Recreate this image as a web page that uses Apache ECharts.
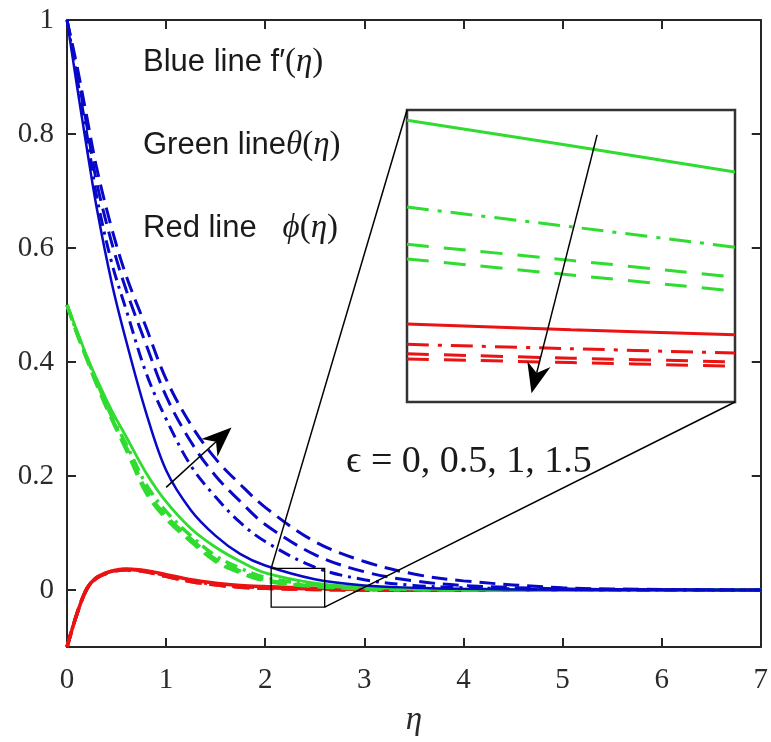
<!DOCTYPE html>
<html>
<head>
<meta charset="utf-8">
<script src="https://cdn.jsdelivr.net/npm/echarts@6/dist/echarts.min.js"></script>
<style>
  html, body { margin: 0; padding: 0; background: #fff; }
  #chart { width: 771px; height: 742px; }
</style>
</head>
<body>
<div id="chart"></div>
<script>
// eta sample points (main plot)
const eta = [0, 0.1, 0.2, 0.3, 0.45, 0.6, 0.8, 1, 1.25, 1.5, 1.75, 2, 2.5, 3, 3.5, 4, 5, 6, 7];

// f'(eta), eps = 0, 0.5, 1, 1.5
const blueE0  = [1, 0.885, 0.775, 0.67, 0.54, 0.435, 0.31, 0.21, 0.14, 0.095, 0.063, 0.043, 0.019, 0.008, 0.004, 0.002, 0.0005, 0, 0];
const blueE05 = [1, 0.9, 0.8, 0.69, 0.575, 0.49, 0.38, 0.3, 0.218, 0.163, 0.118, 0.085, 0.04, 0.018, 0.008, 0.004, 0.001, 0, 0];
const blueE1  = [1, 0.91, 0.815, 0.715, 0.61, 0.525, 0.43, 0.34, 0.26, 0.2, 0.155, 0.115, 0.062, 0.032, 0.016, 0.008, 0.002, 0.0005, 0];
const blueE15 = [1, 0.92, 0.83, 0.74, 0.635, 0.55, 0.46, 0.37, 0.29, 0.23, 0.185, 0.145, 0.085, 0.05, 0.028, 0.016, 0.004, 0.001, 0];

// theta(eta)
const greenE0  = [0.5, 0.455, 0.41, 0.37, 0.315, 0.268, 0.205, 0.155, 0.108, 0.075, 0.05, 0.03, 0.012, 0.005, 0.002, 0.001, 0, 0, 0];
const greenE05 = [0.5, 0.452, 0.408, 0.365, 0.305, 0.255, 0.185, 0.138, 0.095, 0.06, 0.038, 0.022, 0.009, 0.004, 0.002, 0.001, 0, 0, 0];
const greenE1  = [0.5, 0.451, 0.406, 0.362, 0.302, 0.25, 0.175, 0.13, 0.09, 0.054, 0.033, 0.018, 0.007, 0.003, 0.001, 0, 0, 0, 0];
const greenE15 = [0.5, 0.45, 0.405, 0.36, 0.3, 0.245, 0.17, 0.125, 0.085, 0.05, 0.03, 0.016, 0.006, 0.002, 0.001, 0, 0, 0, 0];

// phi(eta)
const redE0  = [-0.1, -0.042, 0.002, 0.022, 0.033, 0.037, 0.034, 0.027, 0.018, 0.012, 0.008, 0.006, 0.003, 0.001, 0, 0, 0, 0, 0];
const redE05 = [-0.1, -0.042, 0.002, 0.022, 0.033, 0.036, 0.033, 0.025, 0.016, 0.01, 0.006, 0.004, 0.002, 0.001, 0, 0, 0, 0, 0];
const redE1  = [-0.1, -0.042, 0.002, 0.021, 0.032, 0.036, 0.032, 0.024, 0.015, 0.009, 0.005, 0.003, 0.001, 0, 0, 0, 0, 0, 0];
const redE15 = [-0.1, -0.042, 0.002, 0.021, 0.032, 0.035, 0.032, 0.024, 0.015, 0.009, 0.005, 0.003, 0.001, 0, 0, 0, 0, 0, 0];

// zoomed inset
const insetEta = [2.06, 2.33, 2.6];
const insetGreenE0  = [0.0386, 0.0351, 0.0315];
const insetGreenE05 = [0.0267, 0.024, 0.0212];
const insetGreenE1  = [0.0216, 0.0194, 0.0171];
const insetGreenE15 = [0.0196, 0.0174, 0.0152];
const insetRedE0  = [0.0107, 0.0099, 0.0092];
const insetRedE05 = [0.0079, 0.0073, 0.0067];
const insetRedE1  = [0.0066, 0.006, 0.0055];
const insetRedE15 = [0.0059, 0.0054, 0.0049];

const xTicks = [0, 1, 2, 3, 4, 5, 6, 7];
const yTicks = [0, 0.2, 0.4, 0.6, 0.8, 1];

// zoom box in main plot, and arrows
const zoomBox = { x0: 2.06, x1: 2.6, y0: -0.03, y1: 0.038 };
const mainArrow = { from: [1.0, 0.18], to: [1.66, 0.285] };
const insetArrow = { from: [2.373, 0.0366], to: [2.265, 0.0012] };

const BLUE = '#0808c8';
const GREEN = '#2fdc2f';
const RED = '#ea1212';
const AXIS = '#262626';

const SOLID = 'solid';
const DASHDOT = [13, 6, 3, 6];
const DASH = [16, 8];
const DASH_IN = [22, 15];
const DASHDOT_IN = [22, 9, 4, 9];

function line(xs, ys, color, type, width, axis) {
  return {
    type: 'line',
    data: xs.map((x, i) => [x, ys[i]]),
    xAxisIndex: axis,
    yAxisIndex: axis === 0 ? 0 : 2,
    symbol: 'none',
    smooth: 0.35,
    silent: true,
    z: axis === 0 ? 2 : 20,
    lineStyle: { color: color, width: width, type: type }
  };
}

const chart = echarts.init(document.getElementById('chart'));

const serifLabel = { fontFamily: 'Liberation Serif', fontSize: 29, color: '#2a2a2a' };

chart.setOption({
  animation: false,
  backgroundColor: '#fff',
  grid: [
    { left: 67, right: 4, top: 20, bottom: 94 },
    { left: 407, top: 110, width: 328, height: 292, show: true, backgroundColor: '#fff',
      borderColor: '#333', borderWidth: 2.5 }
  ],
  xAxis: [
    {
      type: 'value', gridIndex: 0, min: 0, max: 7, interval: 1, position: 'bottom',
      name: 'η', nameLocation: 'middle', nameGap: 57,
      nameTextStyle: { fontFamily: 'Liberation Serif', fontStyle: 'italic', fontSize: 33, color: '#2a2a2a' },
      axisLine: { onZero: false, lineStyle: { color: AXIS, width: 2 } },
      axisTick: { inside: true, length: 9, lineStyle: { color: AXIS, width: 2 } },
      axisLabel: Object.assign({ margin: 19 }, serifLabel),
      splitLine: { show: false }
    },
    {
      type: 'value', gridIndex: 0, min: 0, max: 7, interval: 1, position: 'top',
      axisLine: { onZero: false, lineStyle: { color: AXIS, width: 2 } },
      axisTick: { inside: true, length: 9, lineStyle: { color: AXIS, width: 2 } },
      axisLabel: { show: false },
      splitLine: { show: false }
    },
    {
      type: 'value', gridIndex: 1, min: 2.06, max: 2.6,
      axisLine: { show: false }, axisTick: { show: false }, axisLabel: { show: false },
      splitLine: { show: false }
    }
  ],
  yAxis: [
    {
      type: 'value', gridIndex: 0, min: -0.1, max: 1, position: 'left',
      axisLine: { onZero: false, lineStyle: { color: AXIS, width: 2 } },
      axisTick: { inside: true, length: 9, customValues: yTicks, lineStyle: { color: AXIS, width: 2 } },
      axisLabel: Object.assign({ margin: 13, customValues: yTicks,
        formatter: v => String(Math.round(v * 10) / 10) }, serifLabel),
      splitLine: { show: false }
    },
    {
      type: 'value', gridIndex: 0, min: -0.1, max: 1, position: 'right',
      axisLine: { onZero: false, lineStyle: { color: AXIS, width: 2 } },
      axisTick: { inside: true, length: 9, customValues: yTicks, lineStyle: { color: AXIS, width: 2 } },
      axisLabel: { show: false },
      splitLine: { show: false }
    },
    {
      type: 'value', gridIndex: 1, min: 0, max: 0.04,
      axisLine: { show: false }, axisTick: { show: false }, axisLabel: { show: false },
      splitLine: { show: false }
    }
  ],
  series: [
    line(eta, redE15, RED, DASH, 3.5, 0),
    line(eta, redE1, RED, DASH, 3.5, 0),
    line(eta, redE05, RED, DASHDOT, 3.5, 0),
    line(eta, redE0, RED, SOLID, 3.5, 0),
    line(eta, greenE15, GREEN, DASH, 3.5, 0),
    line(eta, greenE1, GREEN, DASH, 3.5, 0),
    line(eta, greenE05, GREEN, DASHDOT, 3.5, 0),
    line(eta, greenE0, GREEN, SOLID, 2.8, 0),
    line(eta, blueE15, BLUE, DASH, 3, 0),
    line(eta, blueE1, BLUE, DASH, 3, 0),
    line(eta, blueE05, BLUE, DASHDOT, 3, 0),
    line(eta, blueE0, BLUE, SOLID, 2.5, 0),

    line(insetEta, insetGreenE0, GREEN, SOLID, 3, 2),
    line(insetEta, insetGreenE05, GREEN, DASHDOT_IN, 3, 2),
    line(insetEta, insetGreenE1, GREEN, DASH_IN, 3, 2),
    line(insetEta, insetGreenE15, GREEN, DASH_IN, 3, 2),
    line(insetEta, insetRedE0, RED, SOLID, 3, 2),
    line(insetEta, insetRedE05, RED, DASHDOT_IN, 3, 2),
    line(insetEta, insetRedE1, RED, DASH_IN, 3, 2),
    line(insetEta, insetRedE15, RED, DASH_IN, 3, 2)
  ]
});

// annotations: zoom box, connectors, arrows, labels
function px(pt) { return chart.convertToPixel({ xAxisIndex: 0, yAxisIndex: 0 }, pt); }
function pxIn(pt) { return chart.convertToPixel({ xAxisIndex: 2, yAxisIndex: 2 }, pt); }

function arrow(p0, p1) {
  const dx = p1[0] - p0[0], dy = p1[1] - p0[1];
  const len = Math.sqrt(dx * dx + dy * dy);
  const ux = dx / len, uy = dy / len;
  const nx = -uy, ny = ux;
  const L = 30, W = 12;
  const notch = [p1[0] - ux * L * 0.7, p1[1] - uy * L * 0.7];
  return [
    { type: 'polyline', z: 100, shape: { points: [p0, notch] },
      style: { stroke: '#000', lineWidth: 1.5, fill: null } },
    { type: 'polygon', z: 100, shape: { points: [
        p1,
        [p1[0] - ux * L + nx * W, p1[1] - uy * L + ny * W],
        notch,
        [p1[0] - ux * L - nx * W, p1[1] - uy * L - ny * W]
      ] },
      style: { fill: '#000' } }
  ];
}

const bTL = px([zoomBox.x0, zoomBox.y1]);
const bBR = px([zoomBox.x1, zoomBox.y0]);
const iTL = pxIn([2.06, 0.04]);
const iBR = pxIn([2.6, 0]);

const mathRich = {
  s: { fontFamily: 'Liberation Sans', fontSize: 31, fill: '#1a1a1a' },
  p: { fontFamily: 'Liberation Serif', fontSize: 33, fill: '#1a1a1a' },
  i: { fontFamily: 'Liberation Serif, DejaVu Serif', fontStyle: 'italic', fontSize: 33, fill: '#1a1a1a' }
};

chart.setOption({
  graphic: [
    { type: 'rect', z: 100, shape: { x: bTL[0], y: bTL[1], width: bBR[0] - bTL[0], height: bBR[1] - bTL[1] },
      style: { fill: null, stroke: '#000', lineWidth: 1.3 } },
    { type: 'line', z: 100, shape: { x1: bTL[0], y1: bTL[1], x2: iTL[0], y2: iTL[1] },
      style: { stroke: '#000', lineWidth: 1.5 } },
    { type: 'line', z: 100, shape: { x1: bBR[0], y1: bBR[1], x2: iBR[0], y2: iBR[1] },
      style: { stroke: '#000', lineWidth: 1.5 } },
    ...arrow(px(mainArrow.from), px(mainArrow.to)),
    ...arrow(pxIn(insetArrow.from), pxIn(insetArrow.to)),
    { type: 'text', z: 100, x: 143, y: 62,
      style: { text: '{s|Blue line f′}{p|(}{i|η}{p|)}', rich: mathRich, verticalAlign: 'middle' } },
    { type: 'text', z: 100, x: 143, y: 145,
      style: { text: '{s|Green line}{i|θ}{p|(}{i|η}{p|)}', rich: mathRich, verticalAlign: 'middle' } },
    { type: 'text', z: 100, x: 143, y: 228,
      style: { text: '{s|Red line   }{i|ϕ}{p|(}{i|η}{p|)}', rich: mathRich, verticalAlign: 'middle' } },
    { type: 'text', z: 100, x: 346, y: 462,
      style: { text: 'ϵ = 0, 0.5, 1, 1.5', fontFamily: 'Liberation Serif, DejaVu Serif', fontSize: 38,
        fill: '#1a1a1a', verticalAlign: 'middle' } }
  ]
});
</script>
</body>
</html>
